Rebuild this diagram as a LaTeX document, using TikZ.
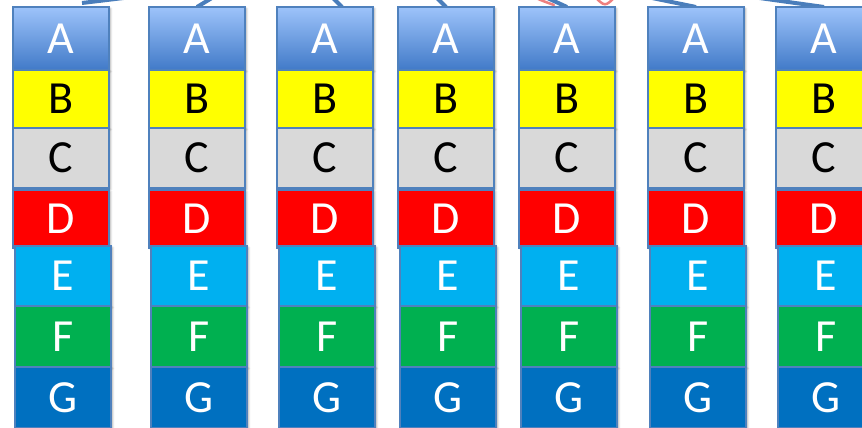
\documentclass[tikz,border=0pt]{standalone}
\usepackage{fontspec}
\setmainfont{Carlito}
\usetikzlibrary{positioning,backgrounds,shadows.blur}
\definecolor{CellEdge}{HTML}{4F81BD}
\definecolor{CellTop}{HTML}{9DC3FA}
\definecolor{CellTopDark}{HTML}{417AC8}
\definecolor{CellYellow}{HTML}{FFFF00}
\definecolor{CellGray}{HTML}{D9D9D9}
\definecolor{CellRed}{HTML}{FF0000}
\definecolor{CellCyan}{HTML}{00B0F0}
\definecolor{CellGreen}{HTML}{00B050}
\definecolor{CellBlue}{HTML}{0070C0}
\definecolor{LinkBlue}{HTML}{4A7EBB}
\definecolor{LinkRed}{HTML}{EE8080}

\begin{document}
\begin{tikzpicture}[x=1pt,y=-1pt,
  cell/.style={draw=CellEdge,line width=1.2pt,minimum width=96pt,inner sep=0pt,outer sep=0pt,text=white,font=\fontsize{46}{52}\selectfont,blur shadow={shadow xshift=1.8pt,shadow yshift=-1.5pt,shadow opacity=30,shadow blur steps=4}},
  darkcell/.style={cell,text=black},
  link/.style={draw=LinkBlue,line width=4pt},
  hilite/.style={draw=LinkRed,line width=2.5pt,line cap=round}
]
\useasboundingbox (0,0) rectangle (862,428);
\clip (0,0) rectangle (862,428);
% seven identical columns
\foreach \i/\x in {1/13,2/149,3/277,4/398,5/519,6/648,7/776}{
  \node[cell,top color=CellTop,bottom color=CellTopDark,minimum height=63pt,anchor=north west] (a\i) at (\x,7) {A};
  \node[darkcell,fill=CellYellow,minimum height=58pt,below=0pt of a\i] (b\i) {B};
  \node[darkcell,fill=CellGray,minimum height=60pt,below=0pt of b\i] (c\i) {C};
  \node[cell,fill=CellRed,minimum height=58pt,below=2pt of c\i] (d\i) {D};
  \node[cell,fill=CellCyan,minimum height=60pt,below=-2pt of d\i,xshift=2pt] (e\i) {E};
  \node[cell,fill=CellGreen,minimum height=61pt,below=0pt of e\i] (f\i) {F};
  \node[cell,fill=CellBlue,minimum height=61pt,below=0pt of f\i] (g\i) {G};
}
% links to the tree above
\begin{scope}[on background layer]
\coordinate (s1) at (82,3);
\coordinate (t1) at (190,-10);
\draw[link] (s1) -- (t1);
\coordinate[right=17pt of a3.north] (s3);
\coordinate (t3) at (325,-10);
\draw[link] (s3) -- (t3);
\foreach \i/\tx in {2/225,4/429,5/530,6/613,7/702}{
  \coordinate (t\i) at (\tx,-10);
  \draw[link] (a\i.north) -- (t\i);
}
\coordinate (r1) at (528,-6);
\coordinate (r2) at (554,5);
\draw[hilite] (r1) .. controls (540,0) .. (r2);
\coordinate (r3) at (594,-4);
\coordinate (r4) at (616,-4);
\draw[hilite] (r3) .. controls (605,7) .. (r4);
\end{scope}
\end{tikzpicture}
\end{document}
